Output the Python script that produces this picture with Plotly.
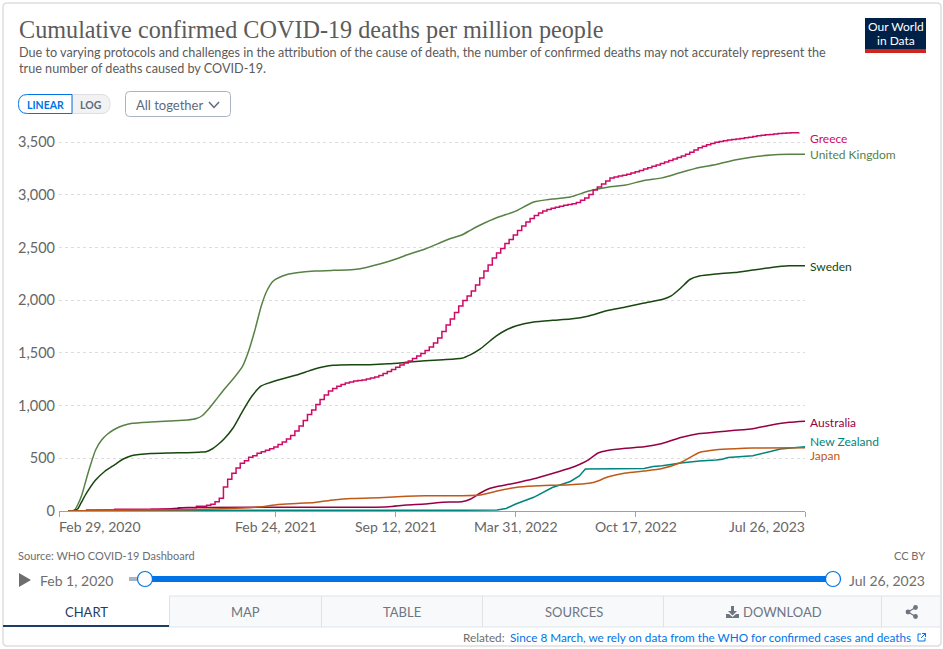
import pandas as pd
import plotly.graph_objects as go

W = 943
H = 649
# the drawn figure comes out 8px shorter than asked for, so ask for a bit more
FIG_H = H + 8

tick_dates = ["2020-02-29", "2021-02-24", "2021-09-12", "2022-03-31", "2022-10-17", "2023-07-26"]
tick_labels = ["Feb 29, 2020", "Feb 24, 2021", "Sep 12, 2021", "Mar 31, 2022", "Oct 17, 2022", "Jul 26, 2023"]
y_ticks = [0, 500, 1000, 1500, 2000, 2500, 3000, 3500]

uk_dates = ["2020-03-20", "2020-03-25", "2020-03-31", "2020-04-07", "2020-04-15", "2020-04-22", "2020-04-30",
            "2020-05-10", "2020-05-20", "2020-05-31", "2020-06-15", "2020-06-30", "2020-07-31", "2020-08-31",
            "2020-09-30", "2020-10-15", "2020-10-25", "2020-11-05", "2020-11-15", "2020-11-30", "2020-12-15",
            "2020-12-31", "2021-01-10", "2021-01-20", "2021-01-31", "2021-02-10", "2021-02-20", "2021-02-28",
            "2021-03-15", "2021-03-31", "2021-04-30", "2021-05-31", "2021-06-30", "2021-07-15", "2021-07-31",
            "2021-08-31", "2021-09-15", "2021-09-30", "2021-10-31", "2021-11-30", "2021-12-15", "2021-12-31",
            "2022-01-15", "2022-01-31", "2022-02-28", "2022-03-15", "2022-03-31", "2022-04-30", "2022-05-31",
            "2022-06-30", "2022-07-31", "2022-08-31", "2022-09-30", "2022-10-31", "2022-11-30", "2022-12-31",
            "2023-01-31", "2023-02-28", "2023-03-31", "2023-04-30", "2023-05-31", "2023-06-30", "2023-07-26"]
uk_values = [0, 3, 57, 152, 313, 446, 579, 673, 730, 773, 811, 832, 844, 854, 863, 877, 906, 972, 1043, 1152, 1252,
             1375, 1518, 1707, 1944, 2096, 2182, 2210, 2243, 2259, 2276, 2283, 2288, 2297, 2319, 2367, 2395, 2428,
             2485, 2556, 2589, 2618, 2665, 2713, 2784, 2812, 2845, 2931, 2959, 2978, 3035, 3071, 3092, 3135, 3160,
             3211, 3258, 3286, 3329, 3358, 3377, 3383, 3383]

sweden_dates = ["2020-03-20", "2020-03-31", "2020-04-07", "2020-04-15", "2020-04-30", "2020-05-15", "2020-05-31",
                "2020-06-15", "2020-06-30", "2020-07-31", "2020-08-31", "2020-09-30", "2020-10-20", "2020-10-31",
                "2020-11-10", "2020-11-20", "2020-11-30", "2020-12-15", "2020-12-31", "2021-01-15", "2021-01-31",
                "2021-02-15", "2021-02-28", "2021-03-31", "2021-04-15", "2021-04-30", "2021-05-15", "2021-05-31",
                "2021-06-30", "2021-07-31", "2021-08-31", "2021-09-30", "2021-10-31", "2021-11-30", "2021-12-31",
                "2022-01-15", "2022-01-31", "2022-02-15", "2022-02-28", "2022-03-15", "2022-03-31", "2022-04-30",
                "2022-05-31", "2022-06-30", "2022-07-31", "2022-08-31", "2022-09-30", "2022-10-31", "2022-11-30",
                "2022-12-15", "2022-12-31", "2023-01-15", "2023-01-31", "2023-02-28", "2023-03-31", "2023-04-30",
                "2023-05-31", "2023-06-30", "2023-07-26"]
sweden_values = [0, 19, 90, 171, 294, 375, 436, 493, 526, 545, 550, 553, 558, 562, 588, 631, 683, 787, 948, 1086, 1186,
                 1219, 1243, 1290, 1318, 1347, 1368, 1382, 1388, 1388, 1396, 1410, 1425, 1435, 1449, 1484, 1538, 1608,
                 1666, 1717, 1755, 1793, 1809, 1821, 1850, 1902, 1935, 1973, 2006, 2040, 2115, 2196, 2229, 2248, 2262,
                 2286, 2310, 2326, 2327]

# Greece reports weekly, so it is a staircase; the first few months are read separately
greece_early_dates = ["2020-03-15", "2020-04-15", "2020-06-01", "2020-08-01", "2020-09-15", "2020-10-15", "2020-11-01"]
greece_early_values = [0, 10, 16, 20, 30, 45, 55]
greece_weekly_start = "2020-11-08"
greece_weekly_values = [64, 88, 120, 228, 300, 358, 408, 452, 477, 509, 525, 547, 562, 576, 591, 607, 631, 654, 683,
                        716, 759, 806, 858, 915, 958, 1010, 1058, 1100, 1138, 1162, 1183, 1200, 1214, 1224, 1233, 1238,
                        1243, 1252, 1262, 1272, 1285, 1304, 1323, 1342, 1363, 1385, 1404, 1423, 1446, 1470, 1494, 1522,
                        1556, 1593, 1641, 1703, 1764, 1821, 1883, 1944, 1997, 2039, 2087, 2144, 2210, 2276, 2333, 2400,
                        2447, 2490, 2537, 2575, 2618, 2660, 2703, 2741, 2774, 2803, 2827, 2845, 2860, 2871, 2881, 2890,
                        2900, 2907, 2915, 2926, 2948, 2969, 3002, 3045, 3073, 3102, 3130, 3159, 3168, 3178, 3185, 3195,
                        3206, 3217, 3230, 3244, 3256, 3270, 3282, 3296, 3310, 3325, 3339, 3353, 3367, 3383, 3402, 3424,
                        3445, 3460, 3473, 3486, 3498, 3505, 3513, 3519, 3525, 3529, 3534, 3540, 3545, 3552, 3559, 3564,
                        3568, 3572, 3576, 3580, 3582, 3585, 3587, 3589, 3590]

australia_dates = ["2020-03-15", "2020-05-31", "2020-07-15", "2020-07-31", "2020-08-31", "2020-09-30", "2021-07-31",
                   "2021-08-31", "2021-09-30", "2021-10-31", "2021-11-30", "2021-12-31", "2022-01-15", "2022-01-31",
                   "2022-02-15", "2022-02-28", "2022-03-31", "2022-04-30", "2022-05-31", "2022-06-30", "2022-07-15",
                   "2022-07-31", "2022-08-15", "2022-08-31", "2022-09-30", "2022-10-31", "2022-11-30", "2022-12-31",
                   "2023-01-31", "2023-02-28", "2023-03-31", "2023-04-30", "2023-05-31", "2023-06-30", "2023-07-26"]
australia_values = [0, 4, 6, 8, 20, 34, 36, 41, 57, 66, 83, 88, 114, 171, 213, 232, 266, 305, 356, 408, 441, 488, 550,
                    574, 595, 609, 640, 697, 735, 749, 765, 781, 816, 841, 851]

nz_dates = ["2020-03-15", "2020-05-31", "2021-12-31", "2022-02-28", "2022-03-15", "2022-03-31", "2022-04-30",
            "2022-05-31", "2022-06-30", "2022-07-15", "2022-07-25", "2022-08-31", "2022-10-31", "2022-11-15",
            "2022-11-30", "2022-12-31", "2023-01-31", "2023-02-28", "2023-03-10", "2023-03-20", "2023-04-30",
            "2023-05-31", "2023-06-15", "2023-07-26"]
nz_values = [0, 5, 8, 10, 24, 66, 130, 223, 280, 332, 398, 398, 403, 422, 429, 455, 474, 484, 490, 507, 525, 566, 588,
             610]

japan_dates = ["2020-03-15", "2020-05-31", "2020-09-30", "2020-12-31", "2021-01-31", "2021-02-28", "2021-03-31",
               "2021-04-30", "2021-05-31", "2021-06-30", "2021-07-31", "2021-08-31", "2021-09-30", "2021-10-31",
               "2021-12-31", "2022-01-31", "2022-02-28", "2022-03-31", "2022-04-30", "2022-05-31", "2022-06-30",
               "2022-07-31", "2022-08-15", "2022-08-31", "2022-09-30", "2022-10-31", "2022-11-30", "2022-12-31",
               "2023-01-31", "2023-02-28", "2023-03-31", "2023-04-30", "2023-07-26"]
japan_values = [0, 7, 12, 28, 41, 62, 71, 81, 104, 119, 123, 130, 139, 144, 145, 152, 190, 223, 237, 244, 249, 263, 285,
                322, 360, 379, 403, 460, 555, 581, 591, 597, 601]

greece_dates = greece_early_dates + [d.strftime("%Y-%m-%d") for d in pd.date_range(greece_weekly_start, periods=len(greece_weekly_values), freq="7D")]
greece_values = greece_early_values + greece_weekly_values


# figure margins are zero, so paper coordinates are just pixels of the window
def px(x):
    return x / W


def py(y):
    return 1 - y / H


def round_rect(x0, y0, x1, y1, rl, rr):
    return (f"M {px(x0 + rl)} {py(y0)} L {px(x1 - rr)} {py(y0)} Q {px(x1)} {py(y0)} {px(x1)} {py(y0 + rr)} "
            f"L {px(x1)} {py(y1 - rr)} Q {px(x1)} {py(y1)} {px(x1 - rr)} {py(y1)} L {px(x0 + rl)} {py(y1)} "
            f"Q {px(x0)} {py(y1)} {px(x0)} {py(y1 - rl)} L {px(x0)} {py(y0 + rl)} Q {px(x0)} {py(y0)} {px(x0 + rl)} {py(y0)} Z")


def poly(points, close=False):
    s = "M " + " L ".join(f"{px(a)} {py(b)}" for a, b in points)
    return s + (" Z" if close else "")


shapes = []
annotations = []


def box(x0, y0, x1, y1, fill, line=None, width=1):
    shapes.append(dict(type="rect", xref="paper", yref="paper", x0=px(x0), x1=px(x1), y0=py(y0), y1=py(y1),
                       fillcolor=fill, line=dict(color=line or fill, width=width if line else 0), layer="below"))


def path(d, fill="rgba(0,0,0,0)", line=None, width=1, layer="below"):
    shapes.append(dict(type="path", xref="paper", yref="paper", path=d, fillcolor=fill,
                       line=dict(color=line or fill, width=width if line else 0), layer=layer))


def circle(x, y, r, fill, line=None, width=1, layer="above"):
    shapes.append(dict(type="circle", xref="paper", yref="paper", x0=px(x - r), x1=px(x + r), y0=py(y - r), y1=py(y + r),
                       fillcolor=fill, line=dict(color=line or fill, width=width if line else 0), layer=layer))


def label(x, y, text, size=13, color="#5b5b5b", anchor="left", family="Lato", xref="paper"):
    annotations.append(dict(xref=xref, yref="paper", x=px(x) if xref == "paper" else x, y=py(y), text=text,
                            showarrow=False, xanchor=anchor, yanchor="middle", xshift=0, borderpad=0, borderwidth=0,
                            font=dict(family=family, size=size, color=color)))


# card
path(round_rect(3, 3, 941, 646, 4, 4), fill="#ffffff", line="#dedede", width=1.5)

# header
label(19, 30, "Cumulative confirmed COVID-19 deaths per million people", size=24.2, color="#5b5b5b", family="Liberation Serif")
label(19, 52, "Due to varying protocols and challenges in the attribution of the cause of death, the number of confirmed deaths may not accurately represent the", size=12.65)
label(19, 68, "true number of deaths caused by COVID-19.", size=12.65)
box(865, 18, 926, 49, "#002147")
box(865, 49, 926, 53, "#ce261e")
label(895.5, 27, "Our World", size=12, color="#ffffff", anchor="center")
label(895.5, 40.5, "in Data", size=12, color="#ffffff", anchor="center")

# linear / log toggle and the facet dropdown
path(round_rect(72, 94.5, 110, 113.5, 0, 9), fill="#f2f2f2", line="#dcdfe3")
path(round_rect(18.5, 94.5, 72, 113.5, 9, 0), fill="#ffffff", line="#0073e6")
label(45, 104.5, "<b>LINEAR</b>", size=10.5, color="#0073e6", anchor="center")
label(91, 104.5, "<b>LOG</b>", size=10.5, color="#5b6b80", anchor="center")
path(round_rect(125.5, 91.5, 230.5, 116.5, 4, 4), fill="#ffffff", line="#a8b4c4")
label(136, 104.5, "All together", size=13, color="#5b6b80")
path(poly([(209, 102), (214, 107.5), (219, 102)]), line="#5b6b80", width=1.5)

# footer
label(18, 555, "Source: WHO COVID-19 Dashboard", size=11, color="#6e6e6e")
label(925, 555, "CC BY", size=11, color="#6e6e6e", anchor="right")
path(poly([(19, 573), (31, 580), (19, 587)], close=True), fill="#6e6e6e")
label(40, 580, "Feb 1, 2020", size=14, color="#6e6e6e")
label(925, 580, "Jul 26, 2023", size=14, color="#6e6e6e", anchor="right")
box(129, 577, 145, 581, "#a9b4c2")
box(145, 576, 833, 582, "#0073e6")
circle(145, 579, 7.5, "#ffffff", line="#0073e6", width=1.2)
circle(833, 579, 7.5, "#ffffff", line="#0073e6", width=1.2)

# tabs
box(169, 596, 940, 627, "#f8f9fb")
shapes.append(dict(type="line", xref="paper", yref="paper", x0=px(169), x1=px(940), y0=py(596), y1=py(596), line=dict(color="#dfe3e8", width=1), layer="below"))
shapes.append(dict(type="line", xref="paper", yref="paper", x0=px(169), x1=px(940), y0=py(627), y1=py(627), line=dict(color="#dfe3e8", width=1), layer="below"))
for tab_x in [169.5, 321.5, 482.5, 663.5, 881.5]:
    shapes.append(dict(type="line", xref="paper", yref="paper", x0=px(tab_x), x1=px(tab_x), y0=py(596), y1=py(627), line=dict(color="#dfe3e8", width=1), layer="below"))
box(3, 625, 169, 627, "#1d3d63")
label(86, 612, "CHART", size=13, color="#1d3d63", anchor="center")
label(245.5, 612, "MAP", size=13, color="#6e7581", anchor="center")
label(402, 612, "TABLE", size=13, color="#6e7581", anchor="center")
label(573.5, 612, "SOURCES", size=13, color="#6e7581", anchor="center")
label(743, 612, "DOWNLOAD", size=13, color="#6e7581")
# download icon
path(poly([(731, 606), (734, 606), (734, 611), (737, 611), (732.5, 615.5), (728, 611), (731, 611)], close=True), fill="#6e7581")
path(poly([(726, 614), (729, 614), (732.5, 617), (736, 614), (739, 614), (739, 618), (726, 618)], close=True), fill="#6e7581")
# share icon
path(poly([(915.5, 607.5), (908, 612), (915.5, 616.5)]), line="#6e7581", width=1.2)
circle(915.5, 607.5, 2.4, "#6e7581", layer="below")
circle(908, 612, 2.4, "#6e7581", layer="below")
circle(915.5, 616.5, 2.4, "#6e7581", layer="below")

label(505, 637.5, "Related:", size=11.75, color="#6e6e6e", anchor="right")
label(910.5, 637.5, "Since 8 March, we rely on data from the WHO for confirmed cases and deaths", size=11.75, color="#0073e6", anchor="right")
path(poly([(921, 634), (918, 634), (918, 641), (925, 641), (925, 638)]), line="#0073e6", width=1)
path(poly([(921, 638), (925.5, 633.5)]), line="#0073e6", width=1)
path(poly([(922, 633.5), (925.5, 633.5), (925.5, 637)]), line="#0073e6", width=1)

# x axis labels: the first and last ones hang inside the axis ends
for i, (d, t) in enumerate(zip(tick_dates, tick_labels)):
    anchor = "left" if i == 0 else "right" if i == len(tick_dates) - 1 else "center"
    label(d, 526, t, size=14, color="#666666", anchor=anchor, xref="x")

fig = go.Figure()

# drawing order matches the overlaps at the bottom of the chart
series = [
    ("United Kingdom", uk_dates, uk_values, "#578145", "spline", 155),
    ("Sweden", sweden_dates, sweden_values, "#18470f", "spline", 266),
    ("Greece", greece_dates, greece_values, "#cf0a66", "hv", 139),
    ("Australia", australia_dates, australia_values, "#970046", "spline", 422),
    ("New Zealand", nz_dates, nz_values, "#00847e", "linear", 441),
    ("Japan", japan_dates, japan_values, "#c05917", "spline", 455),
]
for name, dates, values, color, shape, label_y in series:
    line = dict(color=color, width=1.5, shape=shape)
    if shape == "spline":
        line["smoothing"] = 0.5
    fig.add_trace(go.Scatter(x=dates, y=values, mode="lines", name=name, line=line, cliponaxis=False, hoverinfo="skip"))
    label(809.5, label_y, name, size=12, color=color)

fig.update_layout(
    width=W,
    height=FIG_H,
    margin=dict(l=0, r=0, t=0, b=0),
    paper_bgcolor="#ffffff",
    plot_bgcolor="rgba(0,0,0,0)",
    showlegend=False,
    shapes=shapes,
    annotations=annotations,
    xaxis=dict(
        type="date",
        domain=[px(59), px(805)],
        range=[tick_dates[0], tick_dates[-1]],
        tickmode="array",
        tickvals=tick_dates,
        showticklabels=False,
        ticks="outside",
        ticklen=5,
        tickcolor="#a0a0a0",
        showgrid=False,
        zeroline=False,
        showline=True,
        linecolor="#a0a0a0",
        linewidth=1,
    ),
    yaxis=dict(
        domain=[py(511), py(130)],
        range=[0, 3614],
        tickmode="array",
        tickvals=y_ticks,
        tickformat=",",
        tickfont=dict(family="Lato", size=14.5, color="#666666"),
        ticklabelstandoff=3,
        ticks="",
        showline=False,
        zeroline=False,
        gridcolor="#dddddd",
        griddash="3px,3px",
        gridwidth=1,
    ),
)

fig.write_html("out.html", config=dict(displayModeBar=False), post_script="document.body.style.margin='0';")
